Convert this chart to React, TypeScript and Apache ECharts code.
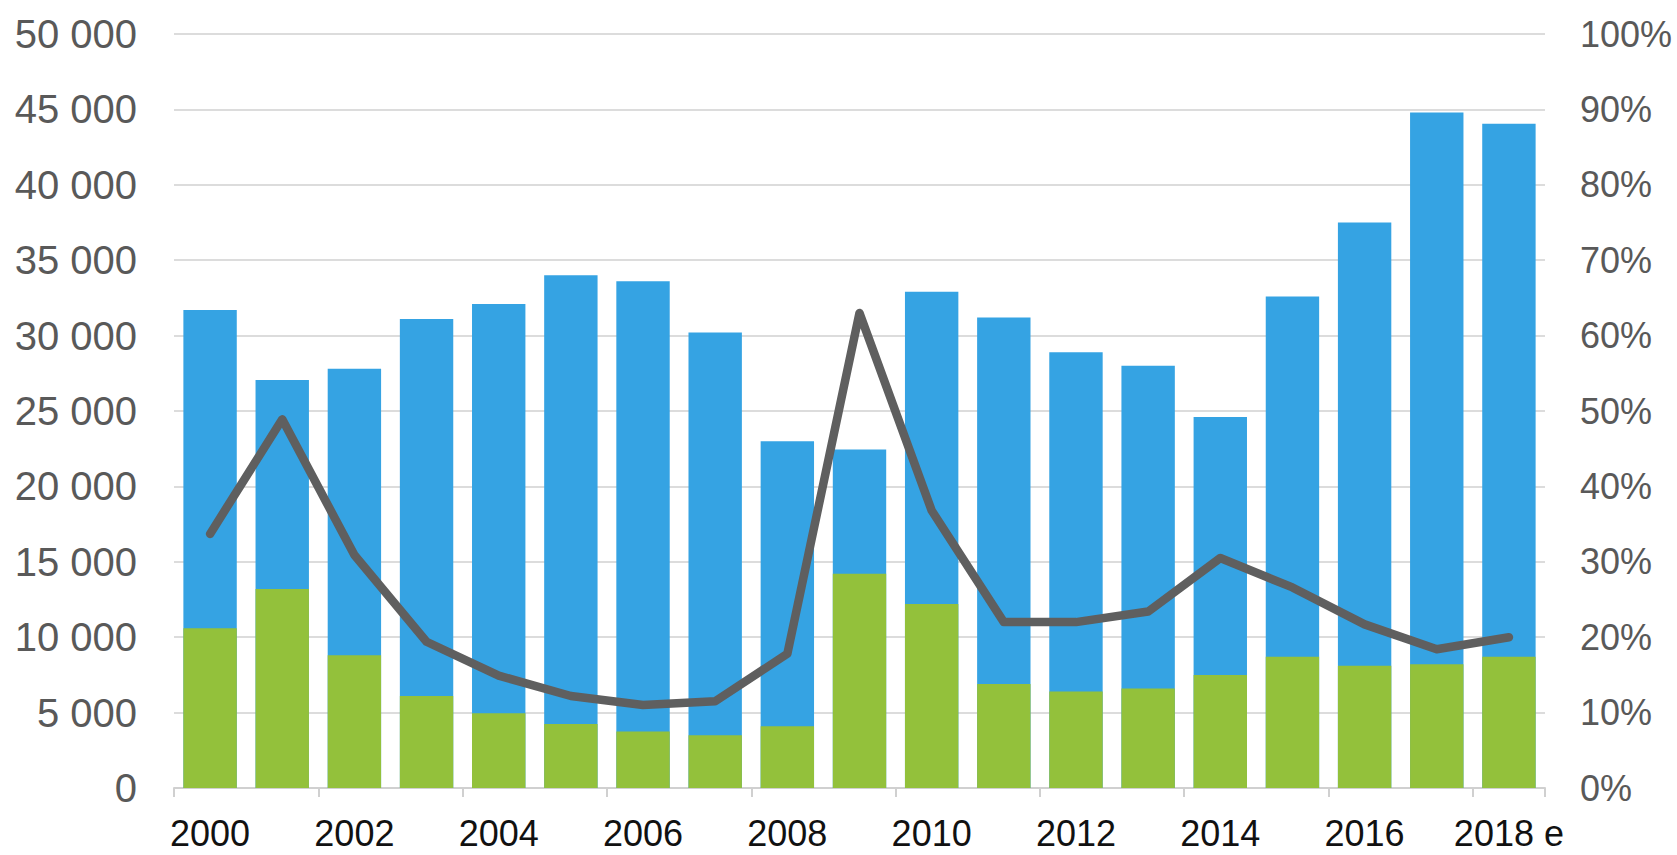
import React, { useEffect, useRef } from "react";
import * as echarts from "echarts";

const years = ["2000","2001","2002","2003","2004","2005","2006","2007","2008","2009","2010","2011","2012","2013","2014","2015","2016","2017","2018 e"];
const totalValues = [31700,27050,27800,31100,32100,34000,33600,30200,23000,22450,32900,31200,28900,28000,24600,32600,37500,44800,44050];
const greenValues = [10600,13200,8800,6100,4960,4250,3750,3500,4100,14200,12200,6900,6400,6600,7500,8700,8100,8200,8700];
const shareValues = [33.7,48.9,30.9,19.4,14.9,12.2,11.0,11.5,17.8,63.0,36.8,22.0,22.0,23.4,30.5,26.6,21.7,18.4,20.0];

const FONT = "Liberation Sans, Arial, sans-serif";

export default function App() {
  const ref = useRef<HTMLDivElement>(null);
  useEffect(() => {
    document.body.style.margin = "0";
    const chart = echarts.init(ref.current!, undefined, { renderer: "svg" });
    chart.setOption({
      animation: false,
      backgroundColor: "#ffffff",
      grid: { left: 174, right: 132, top: 34, bottom: 67, containLabel: false },
      xAxis: {
        type: "category",
        data: years,
        axisLine: { show: true, lineStyle: { color: "#d0d0d0", width: 2 } },
        axisTick: { show: true, length: 9, lineStyle: { color: "#d0d0d0", width: 2 } },
        axisLabel: {
          interval: 1,
          color: "#111111",
          fontSize: 36,
          fontFamily: FONT,
          margin: 27,
        },
      },
      yAxis: [
        {
          type: "value",
          min: 0,
          max: 50000,
          interval: 5000,
          axisLine: { show: false },
          axisTick: { show: false },
          splitLine: { lineStyle: { color: "#dcdcdc", width: 2 } },
          axisLabel: {
            color: "#595959",
            fontSize: 40,
            fontFamily: FONT,
            margin: 37,
            formatter: (v: number) => String(v).replace(/\B(?=(\d{3})+(?!\d))/g, " "),
          },
        },
        {
          type: "value",
          min: 0,
          max: 100,
          interval: 10,
          position: "right",
          axisLine: { show: false },
          axisTick: { show: false },
          splitLine: { show: false },
          axisLabel: {
            color: "#595959",
            fontSize: 36,
            fontFamily: FONT,
            margin: 35,
            formatter: "{value}%",
          },
        },
      ],
      series: [
        {
          type: "bar",
          data: totalValues,
          barWidth: "74%",
          barGap: "-100%",
          itemStyle: { color: "#35a3e3" },
        },
        {
          type: "bar",
          data: greenValues,
          barWidth: "74%",
          barGap: "-100%",
          itemStyle: { color: "#93c13b" },
        },
        {
          type: "line",
          yAxisIndex: 1,
          data: shareValues,
          showSymbol: false,
          symbol: "none",
          lineStyle: { color: "#5f5f5f", width: 8.5, join: "round", cap: "round" },
        },
      ],
    });
    return () => chart.dispose();
  }, []);
  return <div ref={ref} style={{ width: 1677, height: 855 }} />;
}
